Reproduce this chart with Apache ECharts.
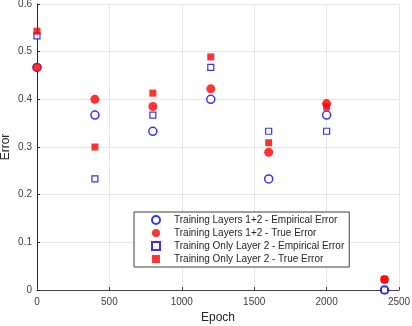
<!DOCTYPE html>
<html>
<head>
<meta charset="utf-8">
<script src="https://cdn.jsdelivr.net/npm/echarts@6/dist/echarts.min.js"></script>
<style>
  html, body { margin: 0; padding: 0; background: #fff; }
  #chart { width: 412px; height: 326px; }
</style>
</head>
<body>
<div id="chart"></div>
<script>
// 训练轮次
const epochs = [0, 400, 800, 1200, 1600, 2000, 2400];
// 两层训练 - 经验误差
const layers12Empirical = [0.467, 0.367, 0.333, 0.400, 0.233, 0.367, 0.000];
// 两层训练 - 真实误差
const layers12True = [0.467, 0.400, 0.385, 0.422, 0.289, 0.391, 0.022];
// 只训练第二层 - 经验误差
const layer2Empirical = [0.533, 0.233, 0.367, 0.467, 0.333, 0.333, 0.000];
// 只训练第二层 - 真实误差
const layer2True = [0.543, 0.300, 0.413, 0.489, 0.309, 0.384, 0.022];

const seriesNames = [
    "Training Layers 1+2 - Empirical Error",
    "Training Layers 1+2 - True Error",
    "Training Only Layer 2 - Empirical Error",
    "Training Only Layer 2 - True Error"
];

const font = "Liberation Sans, Arial, sans-serif";
const toPoints = values => epochs.map((x, i) => [x, values[i]]);

const chart = echarts.init(document.getElementById("chart"));
chart.setOption({
    animation: false,
    grid: { left: 37, right: 13, top: 4, bottom: 36, outerBoundsMode: "none", containLabel: false },
    xAxis: {
        type: "value", min: 0, max: 2500, interval: 500,
        name: "Epoch", nameLocation: "middle", nameGap: 22, nameMoveOverlap: false,
        nameTextStyle: { fontFamily: font, fontSize: 12, color: "#262626" },
        axisLine: { lineStyle: { color: "#444", width: 1 } },
        axisTick: { inside: true, length: 3, lineStyle: { color: "#444" } },
        axisLabel: { fontFamily: font, fontSize: 10, color: "#404040", margin: 7, formatter: v => String(v) },
        splitLine: { lineStyle: { color: "#e6e6e6" } }
    },
    yAxis: {
        type: "value", min: 0, max: 0.6, interval: 0.1,
        name: "Error", nameLocation: "middle", nameGap: 25, nameMoveOverlap: false,
        nameTextStyle: { fontFamily: font, fontSize: 12, color: "#262626" },
        axisLine: { show: true, lineStyle: { color: "#262626", width: 1 } },
        axisTick: { show: true, inside: true, length: 3, lineStyle: { color: "#262626" } },
        axisLabel: { fontFamily: font, fontSize: 10, color: "#404040", margin: 5 },
        splitLine: { lineStyle: { color: "#e6e6e6" } }
    },
    legend: {
        orient: "vertical", left: 134, top: 212,
        padding: [3, 5, 3, 17],
        itemGap: 3, itemWidth: 8, itemHeight: 8,
        backgroundColor: "#fff", borderColor: "#404040", borderWidth: 1,
        textStyle: { fontFamily: font, fontSize: 10, color: "#262626", padding: [0, 0, 0, 9] },
        data: seriesNames
    },
    series: [
        {
            name: seriesNames[0], type: "scatter", data: toPoints(layers12Empirical),
            symbol: "circle", symbolSize: 8,
            itemStyle: { color: "#fff", borderColor: "#0000ff", borderWidth: 1.5 }
        },
        {
            name: seriesNames[1], type: "scatter", data: toPoints(layers12True),
            symbol: "circle", symbolSize: 9,
            itemStyle: { color: "#ff0000" }
        },
        {
            name: seriesNames[2], type: "scatter", data: toPoints(layer2Empirical),
            symbol: "rect", symbolSize: 6,
            itemStyle: { color: "#fff", borderColor: "#0000ff", borderWidth: 1.2 }
        },
        {
            name: seriesNames[3], type: "scatter", data: toPoints(layer2True),
            symbol: "rect", symbolSize: 7,
            itemStyle: { color: "#ff0000" }
        }
    ]
});
</script>
</body>
</html>
